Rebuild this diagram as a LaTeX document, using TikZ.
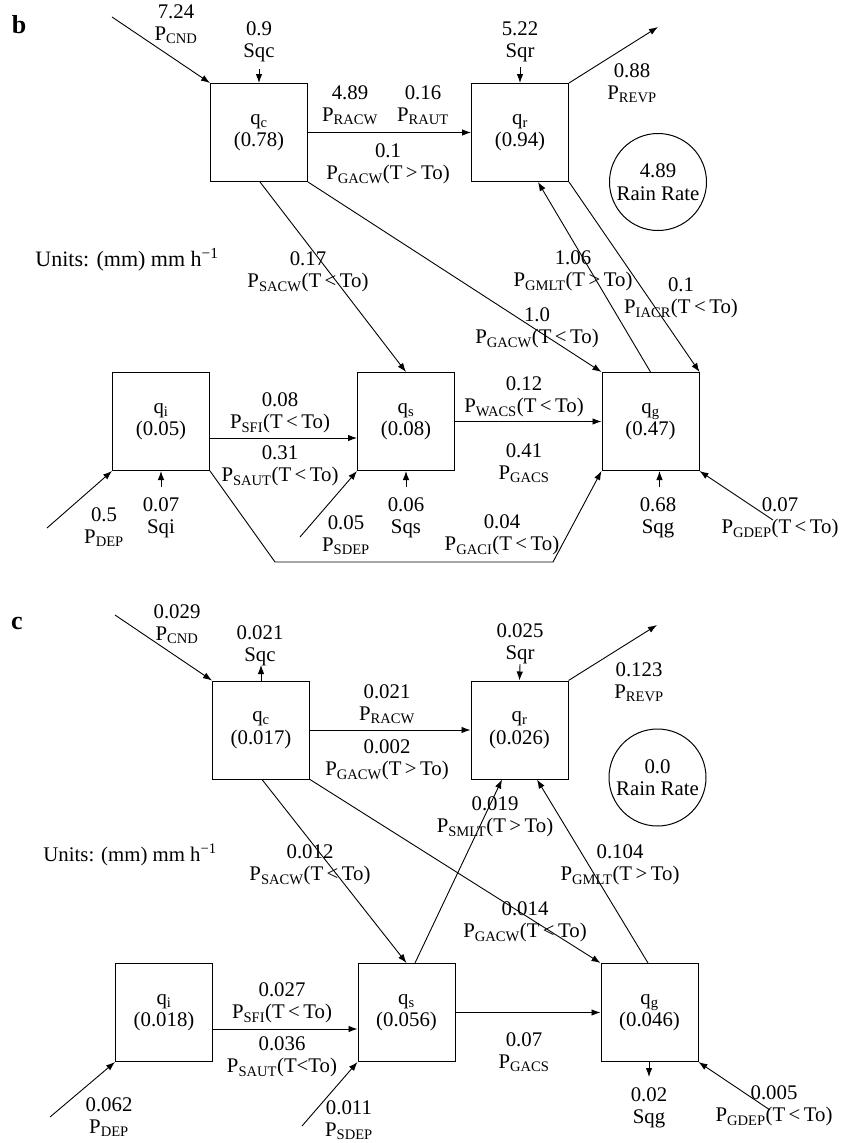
\documentclass[tikz,border=0pt]{standalone}
\usepackage{fontspec}
\setmainfont{Liberation Serif}
\usetikzlibrary{arrows.meta,calc}
\newcommand{\sub}[1]{\textsubscript{#1}}
\begin{document}
\begin{tikzpicture}[x=1pt,y=-1pt,
  every node/.style={font=\fontsize{20.8}{22.5}\selectfont},
  box/.style={draw,line width=1pt,minimum width=97pt,minimum height=98pt,inner sep=0pt,align=center},
  rr/.style={draw,circle,line width=1pt,minimum size=97pt,inner sep=0pt,align=center},
  lbl/.style={align=center,inner sep=0pt},
  arr/.style={line width=0.9pt,-{Latex[length=9pt,width=6.5pt]}},
  ln/.style={line width=0.9pt}]
\useasboundingbox (0,0) rectangle (841,1143);
% ---------------- panel b ----------------
\node[lbl,font=\fontsize{26}{28}\selectfont\bfseries] (Lb) at (19,25) {b};
\node[box] (qcb) at (259,132.5) {q\sub{c}\\(0.78)};
\node[box] (qrb) at (520,132.5) {q\sub{r}\\(0.94)};
\node[box] (qib) at (161,421.5) {q\sub{i}\\(0.05)};
\node[box] (qsb) at (406,421.5) {q\sub{s}\\(0.08)};
\node[box] (qgb) at (650.5,421.5) {q\sub{g}\\(0.47)};
\node[rr] (rrb) at (658,182) {4.89\\Rain Rate};

\coordinate (cndb) at (112,17);
\draw[arr] (cndb) -- (qcb.north west);
\node[lbl] (Lcndb) at (176,24) {7.24\\P\sub{CND}};
\coordinate (sqcb) at (259,69);
\draw[arr] (sqcb) -- (qcb.north);
\node[lbl] (Lsqcb) at (259,42) {0.9\\Sqc};
\draw[arr] (qcb.east) -- (qrb.west);
\node[lbl] (Lracwb) at (350,105) {4.89\\P\sub{RACW}};
\node[lbl] (Lrautb) at (423,105) {0.16\\P\sub{RAUT}};
\node[lbl] (Lgacwb) at (388,164) {0.1\\P\sub{GACW}(T\,>\,To)};
\coordinate (sqrb) at (520,67);
\draw[arr] (sqrb) -- (qrb.north);
\node[lbl] (Lsqrb) at (520,42) {5.22\\Sqr};
\coordinate (revpb) at (658,27);
\draw[arr] (qrb.north east) -- (revpb);
\node[lbl] (Lrevpb) at (632,83) {0.88\\P\sub{REVP}};
\node[lbl,font=\fontsize{22}{24}\selectfont] (Unb) at (127,260) {Units: (mm) mm h\textsuperscript{−1}};
\draw[arr] ([xshift=1]qcb.south) -- (qsb.north);
\node[lbl] (Lsacwb) at (308,272) {0.17\\P\sub{SACW}(T\,<\,To)};
\draw[arr] (qcb.south east) -- (qgb.north west);
\node[lbl] (Lgacw2b) at (537,328) {1.0\\P\sub{GACW}(T\,<\,To)};
\draw[arr] (qgb.north) -- ([xshift=18]qrb.south);
\node[lbl] (Lgmltb) at (573,271) {1.06\\P\sub{GMLT}(T\,>\,To)};
\draw[arr] (qrb.south east) -- (qgb.north east);
\node[lbl] (Liacrb) at (681,298) {0.1\\P\sub{IACR}(T\,<\,To)};
\draw[arr] ([yshift=-16.5]qib.east) -- ([yshift=-16.5]qib.east -| qsb.west);
\node[lbl] (Lsfib) at (280,413) {0.08\\P\sub{SFI}(T\,<\,To)};
\node[lbl] (Lsautb) at (280,466) {0.31\\P\sub{SAUT}(T\,<\,To)};
\draw[arr] (qsb.east) -- (qgb.west);
\node[lbl] (Lwacsb) at (524,397) {0.12\\P\sub{WACS}(T\,<\,To)};
\node[lbl] (Lgacsb) at (524,463) {0.41\\P\sub{GACS}};
\coordinate (gaci1) at (275,562);
\coordinate (gaci2) at (553,562);
\draw[arr] (qib.south east) -- (gaci1) -- (gaci2) -- (qgb.south west);
\node[lbl] (Lgacib) at (502,535) {0.04\\P\sub{GACI}(T\,<\,To)};
\coordinate (depb) at (47,528);
\draw[arr] (depb) -- (qib.south west);
\node[lbl] (Ldepb) at (104,527) {0.5\\P\sub{DEP}};
\coordinate (sqib) at (161,487);
\draw[arr] (sqib) -- (qib.south);
\node[lbl] (Lsqib) at (161,518) {0.07\\Sqi};
\coordinate (sdepb) at (300,537);
\draw[arr] (sdepb) -- (qsb.south west);
\node[lbl] (Lsdepb) at (346,535) {0.05\\P\sub{SDEP}};
\coordinate (sqsb) at (406,487);
\draw[arr] (sqsb) -- (qsb.south);
\node[lbl] (Lsqsb) at (406,518) {0.06\\Sqs};
\coordinate (sqgb) at (659.5,487);
\draw[arr] (sqgb) -- (sqgb |- qgb.south);
\node[lbl] (Lsqgb) at (658,518) {0.68\\Sqg};
\coordinate (gdepb) at (773,520);
\draw[arr] (gdepb) -- (qgb.south east);
\node[lbl] (Lgdepb) at (780,518) {0.07\\P\sub{GDEP}(T\,<\,To)};

% ---------------- panel c ----------------
\node[lbl,font=\fontsize{26}{28}\selectfont\bfseries] (Lc) at (17,623) {c};
\node[box] (qcc) at (261,730) {q\sub{c}\\(0.017)};
\node[box] (qrc) at (519.5,730) {q\sub{r}\\(0.026)};
\node[box] (qic) at (164,1012.5) {q\sub{i}\\(0.018)};
\node[box] (qsc) at (406.5,1012.5) {q\sub{s}\\(0.056)};
\node[box] (qgc) at (649.5,1012.5) {q\sub{g}\\(0.046)};
\node[rr] (rrc) at (657.5,777.5) {0.0\\Rain Rate};

\coordinate (cndc) at (115,615);
\draw[arr] (cndc) -- (qcc.north west);
\node[lbl] (Lcndc) at (177,624) {0.029\\P\sub{CND}};
\coordinate (sqcc) at (261,665);
\draw[arr] (qcc.north) -- (sqcc);
\node[lbl] (Lsqcc) at (260,646) {0.021\\Sqc};
\draw[arr] (qcc.east) -- (qrc.west);
\node[lbl] (Lracwc) at (387,704) {0.021\\P\sub{RACW}};
\node[lbl] (Lgacwc) at (387,760) {0.002\\P\sub{GACW}(T\,>\,To)};
\coordinate (sqrc) at (520,664);
\draw[arr] (sqrc) -- (qrc.north);
\node[lbl] (Lsqrc) at (520,644) {0.025\\Sqr};
\coordinate (revpc) at (657,625);
\draw[arr] (qrc.north east) -- (revpc);
\node[lbl] (Lrevpc) at (639,682) {0.123\\P\sub{REVP}};
\node[lbl] (Unc) at (130,855) {Units: (mm) mm h\textsuperscript{−1}};
\draw[arr] ([xshift=1]qcc.south) -- (qsc.north);
\node[lbl] (Lsacwc) at (310,865) {0.012\\P\sub{SACW}(T\,<\,To)};
\draw[arr] (qcc.south east) -- (qgc.north west);
\node[lbl] (Lgacw2c) at (525,922) {0.014\\P\sub{GACW}(T\,<\,To)};
\draw[arr] ([xshift=8.5]qsc.north) -- ([xshift=-17.5]qrc.south);
\node[lbl] (Lsmltc) at (495,817) {0.019\\P\sub{SMLT}(T\,>\,To)};
\draw[arr] ([xshift=-1.5]qgc.north) -- ([xshift=17.5]qrc.south);
\node[lbl] (Lgmltc) at (620,865) {0.104\\P\sub{GMLT}(T\,>\,To)};
\draw[arr] ([yshift=-16.5]qic.east) -- ([yshift=-16.5]qic.east -| qsc.west);
\node[lbl] (Lsfic) at (282,1003) {0.027\\P\sub{SFI}(T\,<\,To)};
\node[lbl] (Lsautc) at (282,1057) {0.036\\P\sub{SAUT}(T<To)};
\draw[arr] (qsc.east) -- (qgc.west);
\node[lbl] (Lgacsc) at (524,1052) {0.07\\P\sub{GACS}};
\coordinate (depc) at (50,1117);
\draw[arr] (depc) -- (qic.south west);
\node[lbl] (Ldepc) at (109,1117) {0.062\\P\sub{DEP}};
\coordinate (sdepc) at (302,1126);
\draw[arr] (sdepc) -- (qsc.south west);
\node[lbl] (Lsdepc) at (349,1120) {0.011\\P\sub{SDEP}};
\coordinate (sqgc) at (649,1077);
\draw[arr] (sqgc |- qgc.south) -- (sqgc);
\node[lbl] (Lsqgc) at (649,1108) {0.02\\Sqg};
\coordinate (gdepc) at (770,1110);
\draw[arr] (gdepc) -- (qgc.south east);
\node[lbl] (Lgdepc) at (774,1106) {0.005\\P\sub{GDEP}(T\,<\,To)};
\end{tikzpicture}
\end{document}
